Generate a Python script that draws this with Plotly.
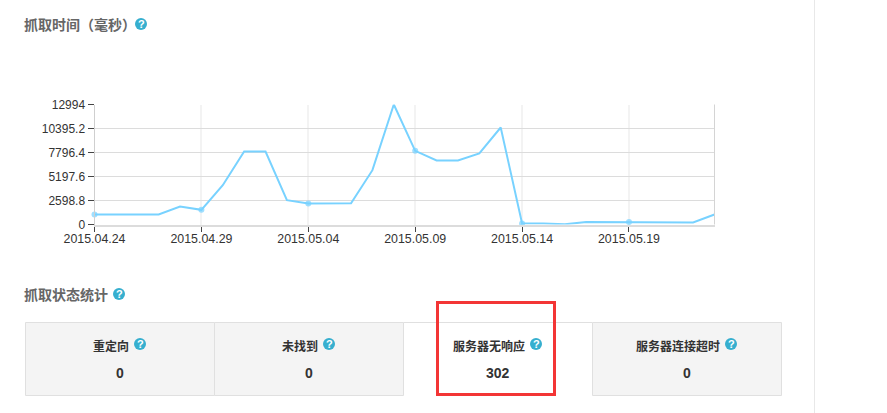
import plotly.graph_objects as go

dates = ["2015-04-24","2015-04-25","2015-04-26","2015-04-27","2015-04-28","2015-04-29","2015-04-30",
         "2015-05-01","2015-05-02","2015-05-03","2015-05-04","2015-05-05","2015-05-06","2015-05-07",
         "2015-05-08","2015-05-09","2015-05-10","2015-05-11","2015-05-12","2015-05-13","2015-05-14",
         "2015-05-15","2015-05-16","2015-05-17","2015-05-18","2015-05-19","2015-05-20","2015-05-21",
         "2015-05-22","2015-05-23"]
crawl_ms = [1083,1083,1083,1083,1949,1588,4258,7904,7904,2635,2274,2310,2310,5883,12994,7976,6929,6929,
            7688,10502,100,100,20,270,270,270,270,220,220,1083]
y_ticks = [0,2598.8,5197.6,7796.4,10395.2,12994]
y_labels = ["0","2598.8","5197.6","7796.4","10395.2","12994"]
x_ticks = ["2015-04-24","2015-04-29","2015-05-04","2015-05-09","2015-05-14","2015-05-19"]
x_labels = ["2015.04.24","2015.04.29","2015.05.04","2015.05.09","2015.05.14","2015.05.19"]
title_main = "抓取时间（毫秒）"
title_status = "抓取状态统计"
status_names = ["重定向","未找到","服务器无响应","服务器连接超时"]
status_values = [0,0,302,0]

W, H = 887, 413
CJK = "Noto Sans CJK SC"
ICON = "#36afcf"
LINE = "#78d2ff"

marker_sizes = [6 if i % 5 == 0 else 0 for i in range(len(dates))]

fig = go.Figure()
fig.add_trace(go.Scatter(x=dates, y=crawl_ms, mode="lines+markers", cliponaxis=False,
                         line=dict(color=LINE, width=2),
                         marker=dict(color=LINE, size=marker_sizes, line=dict(width=0)),
                         hoverinfo="x+y", showlegend=False))
# keeps the full-page pixel axes alive for the page furniture
fig.add_trace(go.Scatter(x=[0], y=[0], xaxis="x2", yaxis="y2", mode="markers",
                         marker=dict(opacity=0), hoverinfo="skip", showlegend=False))

shapes, ann = [], []
def rect(x0, y0, x1, y1, fill="rgba(0,0,0,0)", line="#e0e0e0", w=1, layer="below"):
    shapes.append(dict(type="rect", xref="x2", yref="y2", x0=x0, y0=y0, x1=x1, y1=y1,
                       fillcolor=fill, line=dict(color=line, width=w), layer=layer))
def seg(x0, y0, x1, y1, color, w=1):
    shapes.append(dict(type="line", xref="x2", yref="y2", x0=x0, y0=y0, x1=x1, y1=y1,
                       line=dict(color=color, width=w), layer="below"))
def text(x, y, s, size=12, color="#333", bold=True, family=CJK, anchor="left"):
    ann.append(dict(xref="x2", yref="y2", x=x, y=y, text=f"<b>{s}</b>" if bold else s,
                    showarrow=False, xanchor=anchor, yanchor="middle", borderpad=0, borderwidth=0,
                    font=dict(family=family, size=size, color=color)))
def icon(x, y):
    shapes.append(dict(type="circle", xref="x2", yref="y2", x0=x-6, x1=x+6, y0=y-6, y1=y+6,
                       fillcolor=ICON, line=dict(width=0), layer="below"))
    text(x, y, "?", size=11, color="#fff", family="Liberation Sans", anchor="center")

# headings
text(24, 24, title_main, size=14, color="#666")
icon(141, 24)
text(24, 294, title_status, size=14, color="#666")
icon(119, 294)

# right page divider
seg(814.5, 0, 814.5, H, "#e8e8e8")

# status panels
rect(25.5, 322.5, 214.5, 395.5, fill="#f4f4f4")
rect(214.5, 322.5, 403.5, 395.5, fill="#f4f4f4")
seg(403.5, 322.5, 592.5, 322.5, "#e0e0e0")
rect(592.5, 322.5, 781.5, 395.5, fill="#f4f4f4")

centers = [120, 309, 498, 687]
label_w = [12*len(s) for s in status_names]
for c, s, v, lw in zip(centers, status_names, status_values, label_w):
    lx = c - lw/2 - 9
    text(lx, 345.5, s, anchor="left")
    icon(lx + lw + 11, 344)
    text(c, 373, str(v), size=14, family="Liberation Sans", anchor="center")

# highlight box
rect(437.5, 302.5, 554.5, 394.5, line="#f33535", w=3, layer="above")
# right border of the chart frame
seg(714.5, 104.5, 714.5, 224.5, "#d4d4d4")

fig.update_layout(
    width=W, height=H, autosize=False, margin=dict(l=0, r=0, t=0, b=0, pad=0, autoexpand=False),
    paper_bgcolor="#fff", plot_bgcolor="rgba(0,0,0,0)", showlegend=False,
    font=dict(family="Liberation Sans", size=12, color="#333"),
    shapes=shapes, annotations=ann,
    xaxis=dict(type="date", domain=[94.5/W, 714.5/W], range=["2015-04-24","2015-05-23"], automargin=False,
               tickvals=x_ticks, ticktext=x_labels, ticks="outside", ticklen=5, tickcolor="#444", tickwidth=1,
               ticklabelstandoff=-3,
               showgrid=True, gridcolor="#f3f3f3", gridwidth=2, zeroline=False,
               showline=True, linecolor="#dcdcdc", linewidth=2,
               tickfont=dict(family="Liberation Sans", size=12.4, color="#333"), anchor="y"),
    yaxis=dict(domain=[1-224.5/H, 1-104.5/H], range=[0,12994], automargin=False,
               tickvals=y_ticks, ticktext=y_labels, ticks="outside", ticklen=6, tickcolor="#444", tickwidth=1,
               showgrid=True, gridcolor="#dcdcdc", gridwidth=1, zeroline=False,
               showline=True, linecolor="#cfcfcf", linewidth=1,
               tickfont=dict(family="Liberation Sans", size=12, color="#333"), anchor="x"),
    xaxis2=dict(domain=[0,1], range=[0,W], visible=False, anchor="y2", fixedrange=True),
    yaxis2=dict(domain=[0,1], range=[H,0], visible=False, anchor="x2", fixedrange=True),
)

fig.write_html("out.html", config=dict(displayModeBar=False),
               post_script="document.body.style.margin='0';document.documentElement.style.overflow='hidden';")
